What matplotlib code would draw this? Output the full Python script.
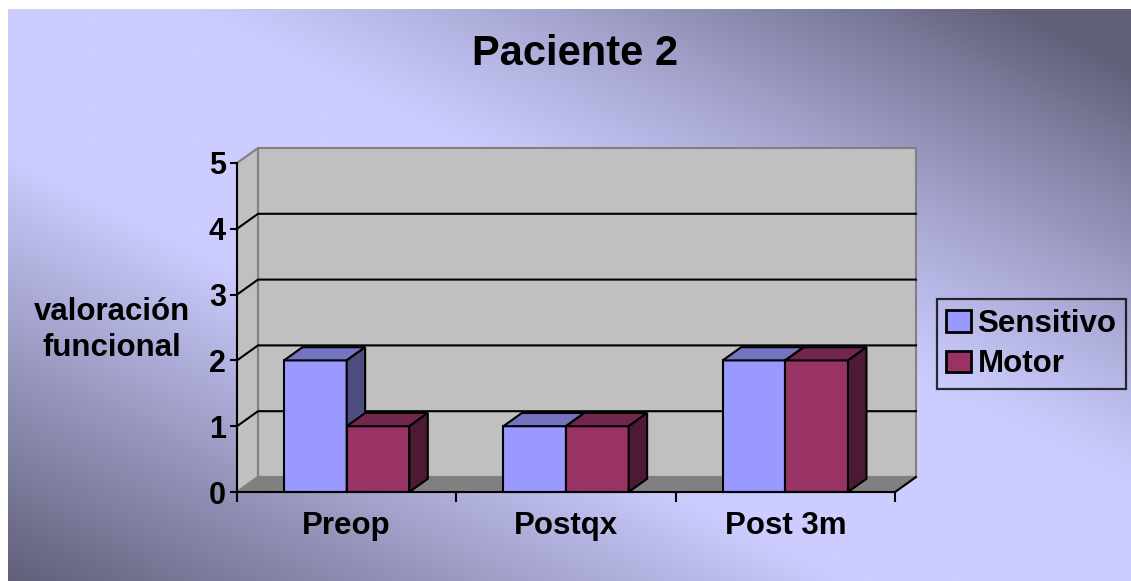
import numpy as np
import matplotlib
matplotlib.use("Agg")
import matplotlib.pyplot as plt
from matplotlib.patches import Polygon, Patch
from matplotlib.transforms import IdentityTransform

plt.rcParams['font.family'] = ['Liberation Sans', 'DejaVu Sans']
plt.rcParams['font.weight'] = 'bold'

# Datos del gráfico
categorias = ['Preop', 'Postqx', 'Post 3m']
sensitivo = [2, 1, 2]
motor = [1, 1, 2]
series = ['Sensitivo', 'Motor']
niveles_y = [0, 1, 2, 3, 4, 5]

# Colores (frente, tapa, lado)
col_sens = ('#9999ff', '#7373c0', '#4d4d80')
col_motor = ('#993366', '#73264d', '#4d1933')

W, H = 1131, 581
fig = plt.figure(figsize=(W / 100, H / 100), dpi=100)

# Fondo degradado diagonal (claro en la diagonal, oscuro en las esquinas)
bg = fig.add_axes([8 / W, 0, (W - 8) / W, (H - 9) / H])
gx, gy = np.meshgrid(np.linspace(0, 1, 500), np.linspace(0, 1, 260))
d = gx - gy
t = np.where(d > 0,
             np.clip((d - 0.15) / 0.75, 0, 1) ** 1.2,
             np.clip((-d - 0.25) / 0.75, 0, 1))
claro = np.array([204, 204, 255]) / 255
oscuro = np.array([96, 96, 122]) / 255
img = claro[None, None, :] * (1 - t[..., None]) + oscuro[None, None, :] * t[..., None]
bg.imshow(img, aspect='auto', extent=(0, 1, 1, 0))
bg.axis('off')

# Ejes principales (plano frontal)
ax = fig.add_axes([237 / W, 89 / H, 658 / W, 329 / H])
ax.set_xlim(0, len(categorias))
ax.set_ylim(0, 5)
ax.patch.set_alpha(0)

DX, DY = 21, 15  # profundidad de las paredes en pixeles
prof_barra = 0.88

def P(x, y, d):
    return ax.transData.transform((x, y)) + d * np.array([DX, DY])

def poly(pts, fc, ec, lw=1.5, z=1):
    ax.add_patch(Polygon(pts, closed=True, facecolor=fc, edgecolor=ec,
                         linewidth=lw, transform=IdentityTransform(),
                         clip_on=False, zorder=z))

def linea(pts, color, lw=1.5, z=1.2):
    pts = np.array(pts)
    ax.plot(pts[:, 0], pts[:, 1], color=color, lw=lw,
            transform=IdentityTransform(), clip_on=False, zorder=z)

n = len(categorias)
ymax = niveles_y[-1]
# pared del fondo, pared izquierda y piso
poly([P(0, 0, 1), P(n, 0, 1), P(n, ymax, 1), P(0, ymax, 1)], '#c0c0c0', '#808080')
poly([P(0, 0, 0), P(0, 0, 1), P(0, ymax, 1), P(0, ymax, 0)], '#c0c0c0', '#808080')
poly([P(0, 0, 0), P(n, 0, 0), P(n, 0, 1), P(0, 0, 1)], '#808080', '#808080')
linea([P(n, 0, 0), P(n, 0, 1)], 'black')

# lineas de cuadricula
for k in niveles_y[1:-1]:
    linea([P(0, k, 0), P(0, k, 1), P(n, k, 1)], 'black')

# barras 3D
ancho = 1 / 3.5
def barra(x0, h, cols):
    x1 = x0 + ancho
    d = prof_barra
    poly([P(x0, 0, 0), P(x1, 0, 0), P(x1, h, 0), P(x0, h, 0)], cols[0], 'black', z=2)
    poly([P(x0, h, 0), P(x1, h, 0), P(x1, h, d), P(x0, h, d)], cols[1], 'black', z=2)
    poly([P(x1, 0, 0), P(x1, 0, d), P(x1, h, d), P(x1, h, 0)], cols[2], 'black', z=2)

for i in range(n):
    inicio = i + 0.5 - ancho
    barra(inicio, sensitivo[i], col_sens)
    barra(inicio + ancho, motor[i], col_motor)

# ejes frontales
for s in ['top', 'right']:
    ax.spines[s].set_visible(False)
for s in ['left', 'bottom']:
    ax.spines[s].set_linewidth(1.5)
    ax.spines[s].set_color('black')
    ax.spines[s].set_zorder(3)
ax.set_yticks(niveles_y)
ax.tick_params(axis='y', direction='out', length=5, width=1.5, pad=3, labelsize=22)
ax.set_xticks(range(n + 1))
ax.set_xticklabels([])
ax.set_xticks(np.arange(n) + 0.5, minor=True)
ax.set_xticklabels(categorias, minor=True)
ax.tick_params(axis='x', which='major', direction='out', length=7, width=1.5)
ax.tick_params(axis='x', which='minor', length=0, pad=14, labelsize=22.5)

fig.text(575 / W, 1 - 54 / H, 'Paciente 2', ha='center', va='center',
         fontsize=30, fontweight='bold')
fig.text(112 / W, 1 - 330 / H, 'valoración\nfuncional', ha='center', va='center',
         fontsize=22.5, fontweight='bold', linespacing=1.3)

handles = [Patch(facecolor=col_sens[0], edgecolor='black', linewidth=2),
           Patch(facecolor=col_motor[0], edgecolor='black', linewidth=2)]
leg = fig.legend(handles, series, loc='center left',
                 bbox_to_anchor=(937 / W, 1 - 344 / H), bbox_transform=fig.transFigure,
                 fontsize=22.5, frameon=True, fancybox=False, borderaxespad=0,
                 handlelength=0.8, handleheight=0.7, handletextpad=0.2,
                 labelspacing=0.35, borderpad=0.3)
leg.get_frame().set_edgecolor('black')
leg.get_frame().set_facecolor('none')
leg.get_frame().set_linewidth(1.6)

fig.savefig('out.png', dpi=100)
